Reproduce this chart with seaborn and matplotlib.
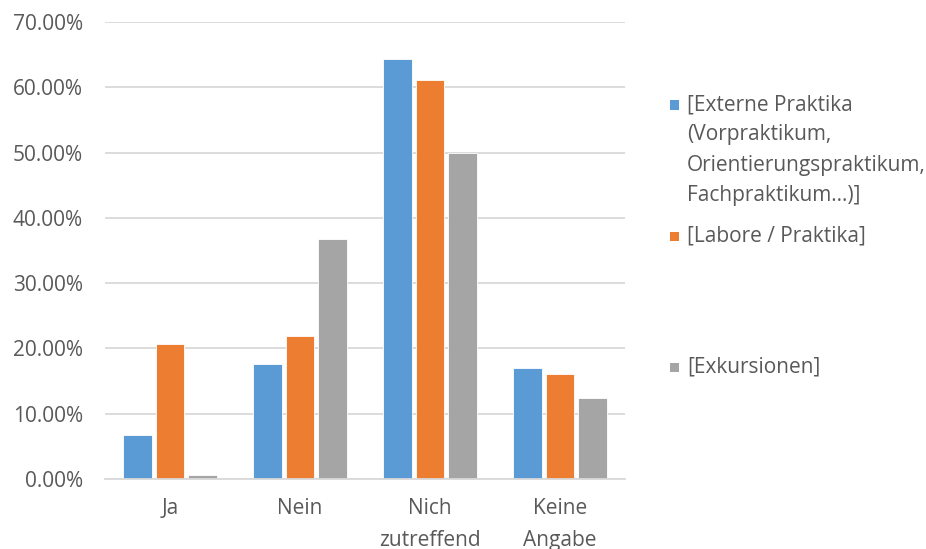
import matplotlib
matplotlib.use("Agg")
import matplotlib.pyplot as plt
from matplotlib.patches import Rectangle
from matplotlib.ticker import FixedLocator, FuncFormatter
import seaborn as sns
import pandas as pd

categories = ["Ja", "Nein", "Nich\nzutreffend", "Keine\nAngabe"]
series_names = [
    "[Externe Praktika\n(Vorpraktikum,\nOrientierungspraktikum,\nFachpraktikum...)]",
    "[Labore / Praktika]",
    "[Exkursionen]",
]
externe = [6.68, 17.6, 64.4, 17.0]
labore = [20.7, 21.9, 61.1, 16.15]
exkursionen = [0.57, 36.8, 49.9, 12.4]
colors = ["#5B9BD5", "#ED7D31", "#A5A5A5"]

rows = []
for name, vals in zip(series_names, [externe, labore, exkursionen]):
    for cat, v in zip(categories, vals):
        rows.append({"Kategorie": cat, "Serie": name, "Wert": v})
df = pd.DataFrame(rows)

sns.set_theme(style="white")
plt.rcParams["font.family"] = ["Open Sans", "DejaVu Sans"]
text_color = "#595959"
grid_color = "#D9D9D9"

W, H = 926, 549
fig = plt.figure(figsize=(W / 100, H / 100), dpi=100)
ax = fig.add_axes([105 / W, 1 - 479 / H, (625 - 105) / W, (479 - 22) / H])

sns.barplot(data=df, x="Kategorie", y="Wert", hue="Serie", order=categories,
            hue_order=series_names, palette=colors, width=0.76, gap=0.12,
            saturation=1, ax=ax, legend=False, edgecolor="white", linewidth=0.6)

ax.set_ylim(0, 70)
ax.set_xlim(-0.5, len(categories) - 0.5)
ax.set_yticks(range(0, 71, 10))
ax.yaxis.set_major_formatter(FuncFormatter(lambda v, p: f"{v:.2f}%"))
ax.grid(axis="y", color=grid_color, linewidth=1.3)
ax.set_axisbelow(True)

for s in ["top", "right", "left"]:
    ax.spines[s].set_visible(False)
ax.spines["bottom"].set_color(grid_color)
ax.spines["bottom"].set_linewidth(1.3)

ax.tick_params(axis="y", length=0, pad=16, labelsize=15, labelcolor=text_color)
ax.tick_params(axis="x", which="major", length=0, pad=14, labelsize=15,
               labelcolor=text_color)
ax.xaxis.set_minor_locator(FixedLocator([i - 0.5 for i in range(len(categories) + 1)]))
ax.tick_params(axis="x", which="minor", length=5, width=1.3, color=grid_color,
               direction="out")
for lbl in ax.get_xticklabels():
    lbl.set_linespacing(1.64)
ax.set_xlabel("")
ax.set_ylabel("")

# Legend entries spread down the right side, drawn as marker + text
legend_y = [105, 237, 367]
for name, col, y in zip(series_names, colors, legend_y):
    fig.patches.append(Rectangle((670 / W, 1 - (y + 4.5) / H), 9 / W, 9 / H,
                                 transform=fig.transFigure, facecolor=col,
                                 edgecolor="none"))
    fig.text(687 / W, 1 - (y - 11) / H, name, ha="left", va="top",
             fontsize=15, color=text_color, linespacing=1.58)

fig.savefig("out.png", dpi=100)
